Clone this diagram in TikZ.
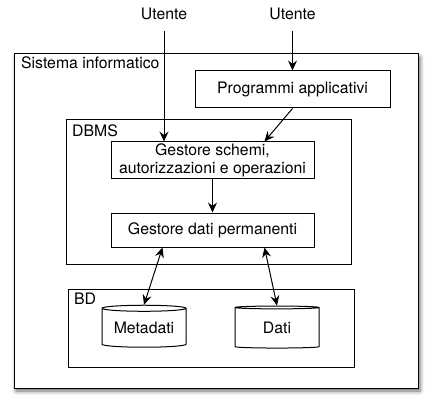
\documentclass[tikz,border=0pt]{standalone}
\usepackage{fontspec}
\setmainfont{TeX Gyre Heros}
\usetikzlibrary{shapes.geometric,arrows.meta,shadows.blur}

\tikzset{
  box/.style={draw, line width=1pt, inner sep=0pt},
  lbl/.style={anchor=north west, inner sep=0pt},
  db/.style={draw, line width=1pt, cylinder, shape border rotate=90, aspect=0.1,
    minimum width=84pt, minimum height=42pt, inner sep=0pt},
  arr/.style={-{Stealth[length=10pt,width=9pt,inset=3.5pt]}, line width=1pt},
  arrs/.style={{Stealth[length=10pt,width=9pt,inset=3.5pt]}-{Stealth[length=10pt,width=9pt,inset=3.5pt]}, line width=1pt}
}

\begin{document}
\begin{tikzpicture}[x=1pt, y=-1pt, font=\fontsize{15.8}{18}\selectfont]
\useasboundingbox (0,0) rectangle (435,411);
% outer boxes
\node[box, fill=white, minimum width=404pt, minimum height=334pt,
  blur shadow={shadow xshift=2pt, shadow yshift=-3pt, shadow blur radius=4pt, shadow opacity=60}] (sys) at (216,221) {};
\node[lbl] (sysname) at (21,57) {Sistema informatico};
\node[box, minimum width=285pt, minimum height=144pt] (dbms) at (208.5,192) {};
\node[lbl] (dbmsname) at (72,124) {DBMS};
\node[box, minimum width=286pt, minimum height=78pt] (bd) at (211,328) {};
\node[lbl] (bdname) at (74,293) {BD};

% users and modules
\node (u1) at (164,14) {Utente};
\node (u2) at (292.5,14) {Utente};
\node[box, minimum width=195pt, minimum height=37pt] (prog) at (292.5,89.5) {Programmi applicativi};
\node[box, minimum width=203pt, minimum height=37pt, align=center] (gschemi) at (212.5,160.5) {Gestore schemi,\\autorizzazioni e operazioni};
\node[box, minimum width=203pt, minimum height=34pt] (gdati) at (212.5,230) {Gestore dati permanenti};
\node[db] (meta) at (144,328) {Metadati};
\node[db] (dati) at (277,328) {Dati};

\draw[arr, shorten <=8pt] (u1) -- (u1 |- gschemi.north);
\draw[arr, shorten <=8pt] (u2) -- (prog.north);
\draw[arr] (prog.south) -- ([xshift=52pt]gschemi.north);
\draw[arr] (gschemi) -- (gdati);
\draw[arrs] ([xshift=-50pt]gdati.south) -- (meta.north);
\draw[arrs] ([xshift=52pt]gdati.south) -- (dati.north);
\end{tikzpicture}
\end{document}
